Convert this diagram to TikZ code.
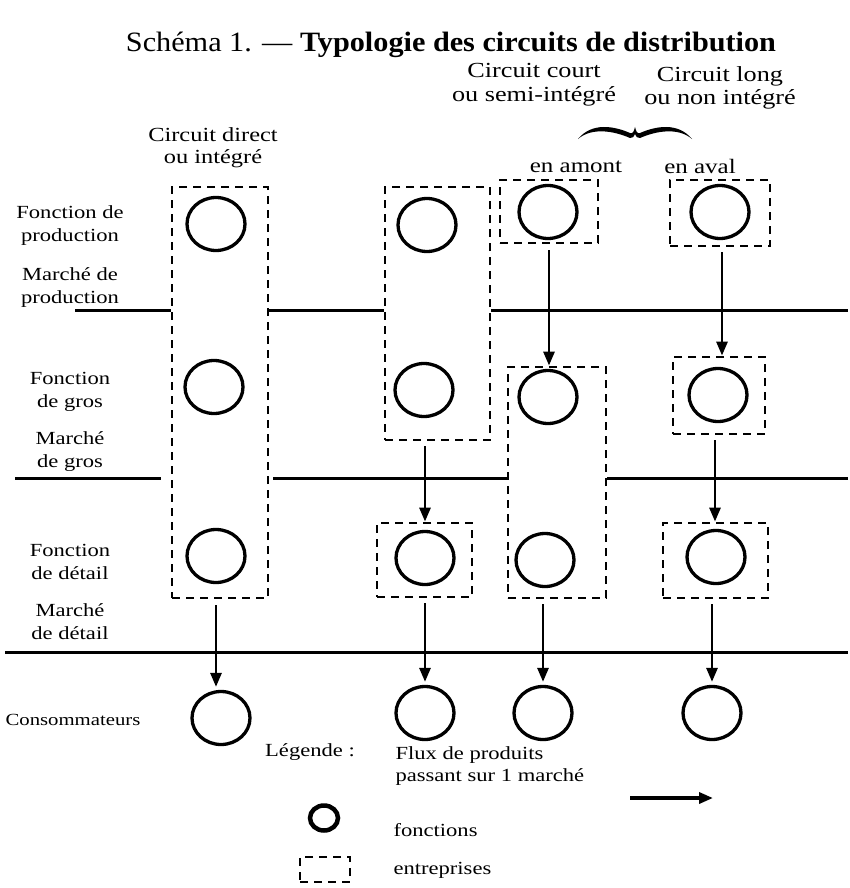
\documentclass[tikz,border=0pt]{standalone}
\usepackage{fontspec}
\setmainfont{Liberation Serif}[FakeStretch=1.22]
\newfontfamily\titlefont{Liberation Serif}[FakeStretch=1.08]
\usetikzlibrary{arrows.meta}
\usetikzlibrary{fit}
\usetikzlibrary{shapes.geometric}
\tikzset{fonction/.style={draw, ellipse, line width=3.3pt, minimum width=58pt, minimum height=53pt, inner sep=0pt}}
\tikzset{entreprise/.style={draw, line width=2.8pt, dash pattern=on 8pt off 6pt, inner sep=0pt}}
\tikzset{flux/.style={line width=2.8pt, -{Triangle[length=14pt,width=11pt]}}}
\tikzset{marche/.style={line width=3pt}}

\begin{document}
\begin{tikzpicture}[x=1pt, y=-1pt]
	% Default action for each node
	\tikzstyle{every node}=[align=center, font=\fontsize{18.5}{23}\selectfont];
	\useasboundingbox (0,0) rectangle (850,888);

	% Title and headings
	\node[inner sep=1pt] (titre) at (451,45) {\titlefont\fontsize{28}{29}\selectfont Schéma 1. — \textbf{Typologie des circuits de distribution}};
	\node[font=\fontsize{21.5}{24}\selectfont] (court) at (534,85) {Circuit court\\ou semi-intégré};
	\node[font=\fontsize{21.5}{23}\selectfont] (long) at (720,88) {Circuit long\\ou non intégré};
	\node[font=\fontsize{20}{22}\selectfont] (direct) at (213,148) {Circuit direct\\ou intégré};
	\node[font=\fontsize{20.5}{22}\selectfont] (amont) at (576,167) {en amont};
	\node[font=\fontsize{20.5}{22}\selectfont] (aval) at (700,166) {en aval};
	\fill (578,139) .. controls (592,122) and (614,126) .. (630,133) .. controls (633,134) and (634,131) .. (635,127)
		.. controls (636,131) and (637,134) .. (640,133) .. controls (656,126) and (678,122) .. (692,139)
		.. controls (678,127) and (656,131) .. (640,138) .. controls (637,139) and (636,136) .. (635,134)
		.. controls (634,136) and (633,139) .. (630,138) .. controls (614,131) and (592,127) .. (578,139) -- cycle;

	% Row labels
	\node (lprod) at (70,226) {Fonction de\\production};
	\node (lmprod) at (70,288) {Marché de\\production};
	\node (lgros) at (70,392) {Fonction\\de gros};
	\node (lmgros) at (70,452) {Marché\\de gros};
	\node (ldet) at (70,562) {Fonction\\de détail};
	\node (lmdet) at (70,622) {Marché\\de détail};
	\node[font=\fontsize{17}{20}\selectfont] (lcons) at (73,720) {Consommateurs};

	% Functions
	\node[fonction] (prod1) at (216,224) {};	\node[fonction] (prod2) at (427,225) {};	\node[fonction] (prod3) at (548,212) {};	\node[fonction] (prod4) at (720,212) {};
	\node[fonction] (gros1) at (214,387) {};	\node[fonction] (gros2) at (424,390) {};	\node[fonction] (gros3) at (548,397) {};	\node[fonction] (gros4) at (718,395) {};
	\node[fonction] (det1) at (216,556) {};		\node[fonction] (det2) at (425,558) {};		\node[fonction] (det3) at (545,560) {};		\node[fonction] (det4) at (716,557) {};
	\node[fonction] (cons1) at (221,718) {};	\node[fonction] (cons2) at (425,713) {};	\node[fonction] (cons3) at (543,713) {};	\node[fonction] (cons4) at (712,713) {};

	% Firms
	\node[entreprise, fit={(172,187) (268,598)}] (box1) {};
	\node[entreprise, fit={(385,187) (490,440)}] (box2a) {};
	\node[entreprise, fit={(377,523) (472,597)}] (box2b) {};
	\node[entreprise, fit={(500,180) (598,243)}] (box3a) {};
	\node[entreprise, fit={(508,367) (606,598)}] (box3b) {};
	\node[entreprise, fit={(670,180) (770,246)}] (box4a) {};
	\node[entreprise, fit={(673,357) (765,434)}] (box4b) {};
	\node[entreprise, fit={(663,523) (768,598)}] (box4c) {};

	% Markets
	\coordinate (prodW) at (75,310);	\coordinate (prodE) at (848,310);
	\coordinate (grosW) at (15,478);	\coordinate (grosE) at (848,478);
	\coordinate (detW) at (5,652);		\coordinate (detE) at (848,652);
	\draw[marche] (prodW) -- (box1.west |- prodW);
	\draw[marche] (box1.east |- prodW) -- (box2a.west |- prodW);
	\draw[marche] (box2a.east |- prodW) -- (prodE);
	\draw[marche] (grosW) -- ([xshift=-10pt]box1.west |- grosW);
	\draw[marche] ([xshift=4pt]box1.east |- grosW) -- (box3b.west |- grosW);
	\draw[marche] (box3b.east |- grosW) -- (grosE);
	\draw[marche] (detW) -- (detE);

	% Flows
	\draw[flux] ([yshift=-6pt]box1.south -| 216,0) -- ([yshift=3pt]cons1.north -| 216,0);
	\draw[flux] ([yshift=-5pt]box2a.south -| det2) -- (box2b.north -| det2);
	\draw[flux] ([yshift=-5pt]box2b.south -| cons2) -- ([yshift=3pt]cons2.north);
	\draw[flux] ([yshift=-6pt]box3a.south -| 549,0) -- (box3b.north -| 549,0);
	\draw[flux] ([yshift=-5pt]box3b.south -| cons3) -- ([yshift=3pt]cons3.north);
	\draw[flux] ([yshift=-5pt]box4a.south -| 722,0) -- (box4b.north -| 722,0);
	\draw[flux] ([yshift=-5pt]box4b.south -| 715,0) -- (box4c.north -| 715,0);
	\draw[flux] ([yshift=-5pt]box4c.south -| cons4) -- ([yshift=3pt]cons4.north);

	% Legend
	\tikzstyle{every node}=[align=left, font=\fontsize{18.5}{22}\selectfont];
	\node (legende) at (310,752) {Légende :};
	\node[anchor=west] (lflux) at (392,766) {Flux de produits\\passant sur 1 marché};
	\coordinate (fluxA) at (630,798);	\coordinate (fluxB) at (713,798);
	\draw[flux, line width=3.4pt] (fluxA) -- (fluxB);
	\node[draw, ellipse, line width=4.5pt, minimum width=28pt, minimum height=25pt, inner sep=0pt] (lcercle) at (324,818) {};
	\node[anchor=west] (lfonctions) at (390,830) {fonctions};
	\node[entreprise, fit={(300,857) (350,882)}] (lboite) {};
	\node[anchor=west] (lentreprises) at (390,870) {entreprises};
\end{tikzpicture}
\end{document}
